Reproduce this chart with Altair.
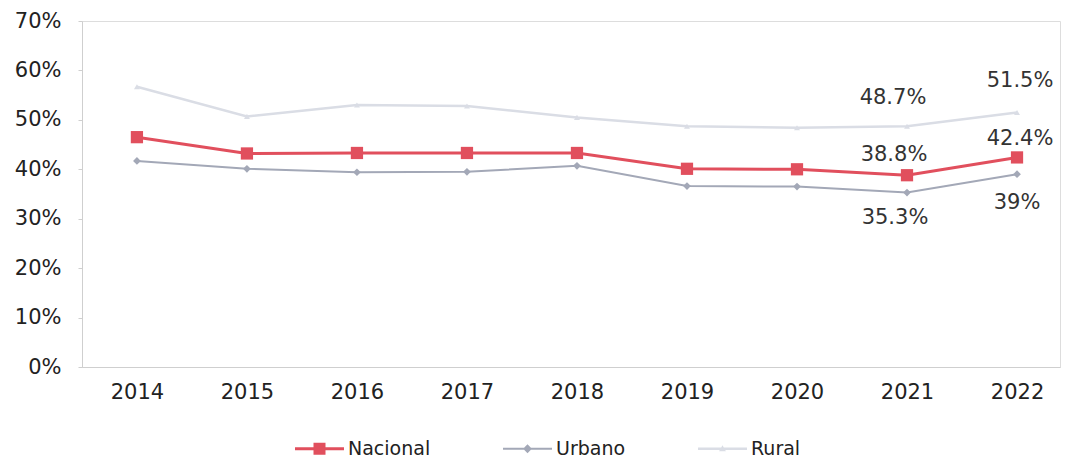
import altair as alt
import pandas as pd

years = ["2014", "2015", "2016", "2017", "2018", "2019", "2020", "2021", "2022"]
series_names = ["Nacional", "Urbano", "Rural"]
nacional = [46.5, 43.2, 43.3, 43.3, 43.3, 40.1, 40.0, 38.8, 42.4]
urbano = [41.7, 40.1, 39.4, 39.5, 40.7, 36.6, 36.5, 35.3, 39.0]
rural = [56.7, 50.7, 53.0, 52.8, 50.5, 48.7, 48.4, 48.7, 51.5]
label_years = ["2021", "2022"]
label_texts = {
    "Nacional": ["38.8%", "42.4%"],
    "Urbano": ["35.3%", "39%"],
    "Rural": ["48.7%", "51.5%"],
}

values = {"Nacional": nacional, "Urbano": urbano, "Rural": rural}
rows = []
for s in series_names:
    for y, v in zip(years, values[s]):
        rows.append({"year": y, "series": s, "value": v / 100})
df = pd.DataFrame(rows)

lab_rows = []
for s in series_names:
    for y, t in zip(label_years, label_texts[s]):
        lab_rows.append({"year": y, "series": s, "label": t,
                         "value": values[s][years.index(y)] / 100})
lab = pd.DataFrame(lab_rows)

colors = ["#E14F5D", "#A3A8B7", "#DADDE5"]
font = "DejaVu Sans"

xenc = alt.X("year:N", sort=years,
             scale=alt.Scale(type="point", padding=0.445, align=0.561),
             axis=alt.Axis(title=None, labelFontSize=21, labelColor="#222", labelFont=font,
                           labelPadding=14, domainColor="#CFCFCF", tickSize=0, labelAngle=0))
yenc = alt.Y("value:Q", scale=alt.Scale(domain=[0, 0.7]),
             axis=alt.Axis(title=None, format=".0%", values=[0, 0.1, 0.2, 0.3, 0.4, 0.5, 0.6, 0.7],
                           labelFontSize=21, labelColor="#222", labelFont=font, labelPadding=17,
                           domainColor="#CFCFCF", tickColor="#CFCFCF", tickSize=4, grid=False))

leg_paths = [
    "M-1,-0.06H1V0.06H-1Z M-0.245,-0.245H0.245V0.245H-0.245Z",
    "M-1,-0.045H1V0.045H-1Z M0,-0.18L0.18,0L0,0.18L-0.18,0Z",
    "M-1,-0.05H1V0.05H-1Z M0,-0.14L0.14,0.1L-0.14,0.1Z",
]
cscale = alt.Scale(domain=series_names, range=colors)
legend = alt.Legend(title=None, orient="none", direction="horizontal",
                    legendX=213, legendY=403, symbolSize=2400, symbolStrokeWidth=0,
                    symbolOpacity=1, labelFontSize=19, labelFont=font, labelColor="#222",
                    columnPadding=72, labelOffset=4)

base = alt.Chart(df)
widths = {"Nacional": 3, "Urbano": 2, "Rural": 2.5}
shapes = {"Nacional": "square", "Urbano": "diamond", "Rural": "triangle-up"}
sizes = {"Nacional": 150, "Urbano": 60, "Rural": 35}

layers = []
# invisible layer that only carries the legend (line + marker symbols)
layers.append(base.mark_point(filled=True, opacity=0).encode(
    x=xenc, y=yenc,
    color=alt.Color("series:N", sort=series_names, scale=cscale, legend=legend),
    shape=alt.Shape("series:N", sort=series_names,
                    scale=alt.Scale(domain=series_names, range=leg_paths), legend=legend)))

for s in ["Rural", "Urbano", "Nacional"]:
    sub = base.transform_filter(alt.datum.series == s)
    layers.append(sub.mark_line(strokeWidth=widths[s]).encode(
        x=xenc, y=yenc, color=alt.Color("series:N", scale=cscale, legend=None)))
    layers.append(sub.mark_point(filled=True, opacity=1, shape=shapes[s], size=sizes[s]).encode(
        x=xenc, y=yenc, color=alt.Color("series:N", scale=cscale, legend=None)))

offsets = {
    ("Rural", "2021"): (-14, -28), ("Rural", "2022"): (3, -31),
    ("Nacional", "2021"): (-13, -20), ("Nacional", "2022"): (3, -18),
    ("Urbano", "2021"): (-12, 25), ("Urbano", "2022"): (0, 29),
}
for s in series_names:
    for y in label_years:
        dx, dy = offsets[(s, y)]
        layers.append(alt.Chart(lab).transform_filter(
            (alt.datum.series == s) & (alt.datum.year == y))
            .mark_text(fontSize=21, font=font, color="#333", dx=dx, dy=dy)
            .encode(x=xenc, y=yenc, text="label:N"))

chart = alt.layer(*layers).resolve_legend(color="shared", shape="shared").properties(
    width=978, height=346,
    autosize=alt.AutoSizeParams(type="none"),
    padding={"left": 74, "top": 13, "right": 4, "bottom": 95},
).configure_view(stroke=None).configure(background="white")

chart.save("out.html", embed_options={"renderer": "svg", "actions": False})
